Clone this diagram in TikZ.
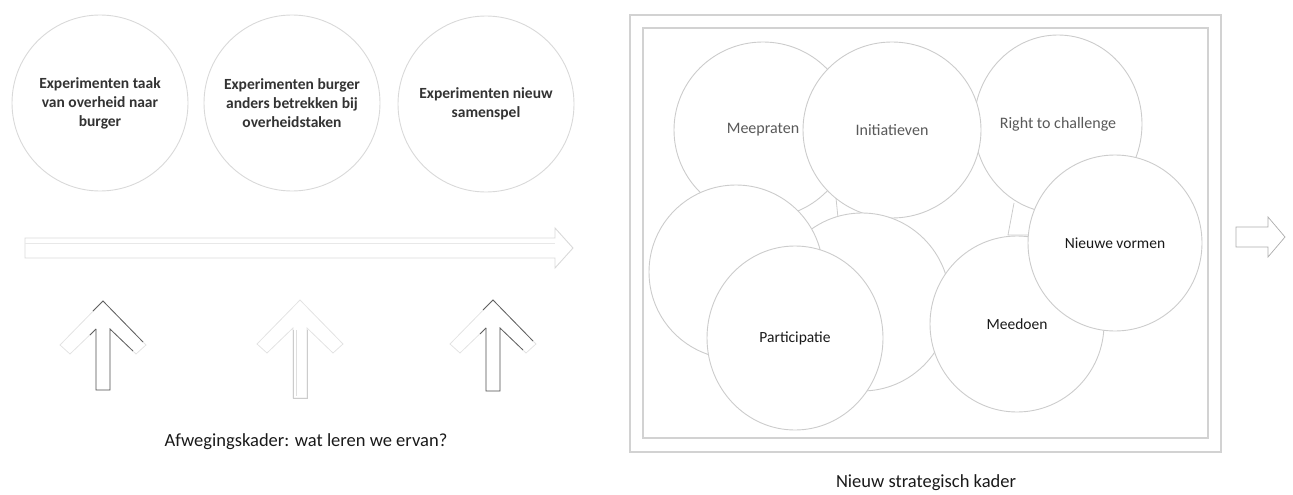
\documentclass[tikz,border=0pt]{standalone}
\usepackage{fontspec}
\setmainfont{Carlito}
\usetikzlibrary{shapes.geometric}
\newcommand\upArrowShape[4]{% cx, tip y, bottom y, colour
  \draw[#4,line width=0.8pt,line join=miter] (#1-7,#3) -- (#1-7,#2+28) -- (#1-33,#2+53) -- (#1-43,#2+44) -- (#1,#2) -- (#1+43,#2+44) -- (#1+33,#2+53) -- (#1+7,#2+28) -- (#1+7,#3) -- cycle;}
\newcommand\upArrowDark[3]{%
  \draw[gray!75!black,line width=0.8pt] (#1-7,#2+28) -- (#1-7,#3) -- (#1+7,#3) -- (#1+7,#2+28) -- (#1+30,#2+50);
  \draw[gray!75!black,line width=0.8pt] (#1-7,#2+28) -- (#1-13,#2+34);
  \draw[gray!75!black,line width=0.8pt] (#1-10,#2+10) -- (#1,#2) -- (#1+40,#2+41);}
\begin{document}
\begin{tikzpicture}[x=1pt,y=-1pt,
  bubble/.style={circle,draw=gray!30,line width=0.9pt,fill=white,minimum size=176pt,inner sep=0pt,align=center,font=\bfseries\fontsize{15.5}{19}\selectfont,text=black!80},
  oval/.style={ellipse,draw=gray!40,line width=0.9pt,fill=white,inner sep=0pt},
  softtxt/.style={font=\fontsize{16}{19}\selectfont,text=black!65},
  darktxt/.style={font=\fontsize{15.5}{19}\selectfont,text=black!90},
  caption/.style={font=\fontsize{18.5}{22}\selectfont,text=black!90,inner sep=0pt},
  framebox/.style={draw=gray!35,line width=1.2pt}
]
\useasboundingbox (0,0) rectangle (1293,495);

% left circles
\node[bubble] (c1) at (100,103) {Experimenten taak\\van overheid naar\\burger};
\node[bubble] (c2) at (292,103) {Experimenten burger\\anders betrekken bij\\overheidstaken};
\node[bubble] (c3) at (486,104) {Experimenten nieuw\\samenspel};

% horizontal block arrow
\draw[gray!30,line width=0.9pt] (25,238) -- (555,238) -- (555,228) -- (573,248) -- (555,268) -- (555,258) -- (25,258) -- cycle;
\draw[gray!18,line width=0.8pt] (25,243) -- (555,243);

% upward arrows
\upArrowShape{103}{301}{390}{gray!22}
\upArrowDark{103}{301}{390}
\upArrowShape{300}{300}{398}{gray!22}
\draw[gray!40,line width=0.8pt] (293,330) -- (293,398) -- (307,398) -- (307,330);
\draw[gray!25,line width=0.6pt] (296,330) -- (296,396);
\upArrowShape{493}{300}{391}{gray!22}
\upArrowDark{493}{300}{391}

\node[caption] (lbl1) at (306,442) {Afwegingskader: wat leren we ervan?};

% strategic frame
\draw[framebox] (630,15) rectangle (1221,452);
\draw[framebox] (643,28) rectangle (1208,438);

\draw[gray!40,line width=0.8pt] (836,198) -- (838,218);
\draw[gray!40,line width=0.8pt] (1014,203) -- (1008,235) -- (1030,235);

\node[oval,minimum width=178pt,minimum height=176pt,softtxt] (mee) at (763,130) {Meepraten};
\node[oval,minimum width=168pt,minimum height=178pt,softtxt] (rtc) at (1058,124) {Right to challenge};
\node[oval,minimum width=178pt,minimum height=176pt,softtxt] (ini) at (892,130) {Initiatieven};
\node[oval,minimum width=176pt,minimum height=178pt] (blankm) at (862,302) {};
\node[oval,minimum width=174pt,minimum height=174pt] (blankl) at (736,272) {};
\node[oval,minimum width=176pt,minimum height=184pt,darktxt] (par) at (795,338) {Participatie};
\node[oval,minimum width=174pt,minimum height=176pt,darktxt] (meed) at (1017,324) {Meedoen};
\node[oval,minimum width=174pt,minimum height=176pt,darktxt] (nv) at (1115,243) {Nieuwe vormen};

\node[caption] (lbl2) at (926,483) {Nieuw strategisch kader};

% small right arrow
\draw[gray!65,line width=0.7pt] (1236,227) -- (1268,227) -- (1268,217) -- (1285,237) -- (1268,257) -- (1268,247) -- (1236,247) -- cycle;
\end{tikzpicture}
\end{document}
